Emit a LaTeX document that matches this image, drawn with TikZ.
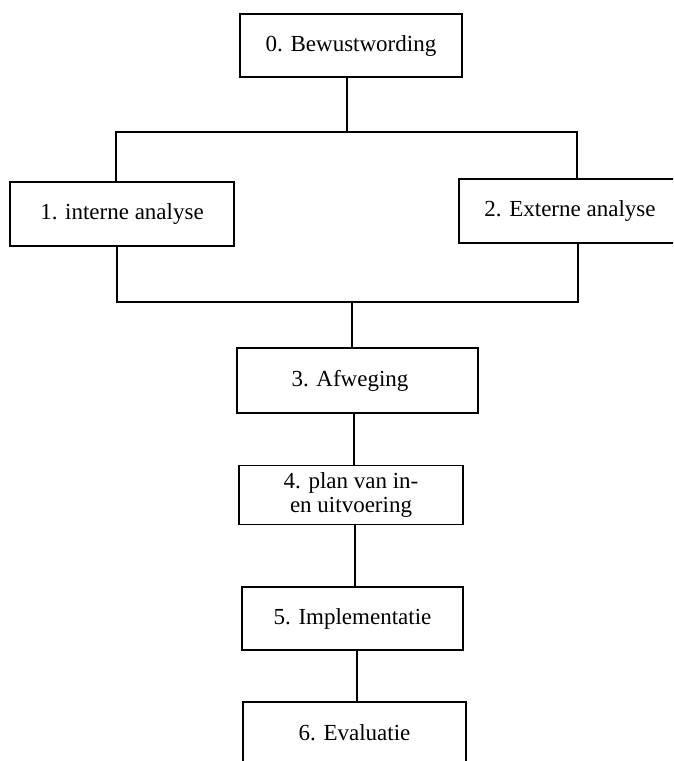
\documentclass[tikz,border=0pt]{standalone}
\usepackage{fontspec}
\setmainfont{Liberation Serif}
\begin{document}
\begin{tikzpicture}[x=1pt,y=-1pt,
  stepbox/.style={draw, line width=1.2pt, fill=white, inner sep=0pt, align=center,
    font=\fontsize{23}{24}\selectfont},
  link/.style={line width=1.2pt}]
\useasboundingbox (0,0) rectangle (673,761);
\clip (0,0) rectangle (673,761);
\node[stepbox, minimum width=222pt, minimum height=63pt] (b0) at (351,45.5) {0. Bewustwording};
\node[stepbox, minimum width=224pt, minimum height=64pt] (b1) at (122,214) {1. interne analyse};
\node[stepbox, minimum width=222pt, minimum height=64pt] (b2) at (570,211) {2. Externe analyse};
\node[stepbox, minimum width=241pt, minimum height=65pt] (b3) at (357.5,380.5) {3. Afweging\hspace*{15pt}};
\node[stepbox, minimum width=224pt, minimum height=59pt] (b4) at (351,495) {4. plan van in-\\en uitvoering};
\node[stepbox, minimum width=221pt, minimum height=63pt] (b5) at (352.5,618.5) {5. Implementatie};
\node[stepbox, minimum width=223pt, minimum height=62pt] (b6) at (354.5,733) {6. Evaluatie};
\coordinate (jt) at (347,132);
\coordinate (tl) at (116,132);
\coordinate (tr) at (577,132);
\coordinate (bl) at (117,302);
\coordinate (br) at (578,302);
\coordinate (jb) at (352,302);
\coordinate (c34) at (354,0);
\coordinate (c45) at (355,0);
\coordinate (c56) at (357,0);
\draw[link] (b0.south -| jt) -- (jt);
\draw[link] (b1.north -| tl) -- (tl) -- (tr) -- (b2.north -| tr);
\draw[link] (b1.south -| bl) -- (bl) -- (br) -- (b2.south -| br);
\draw[link] (jb) -- (b3.north -| jb);
\draw[link] (b3.south -| c34) -- (b4.north -| c34);
\draw[link] (b4.south -| c45) -- (b5.north -| c45);
\draw[link] (b5.south -| c56) -- (b6.north -| c56);
\end{tikzpicture}
\end{document}
